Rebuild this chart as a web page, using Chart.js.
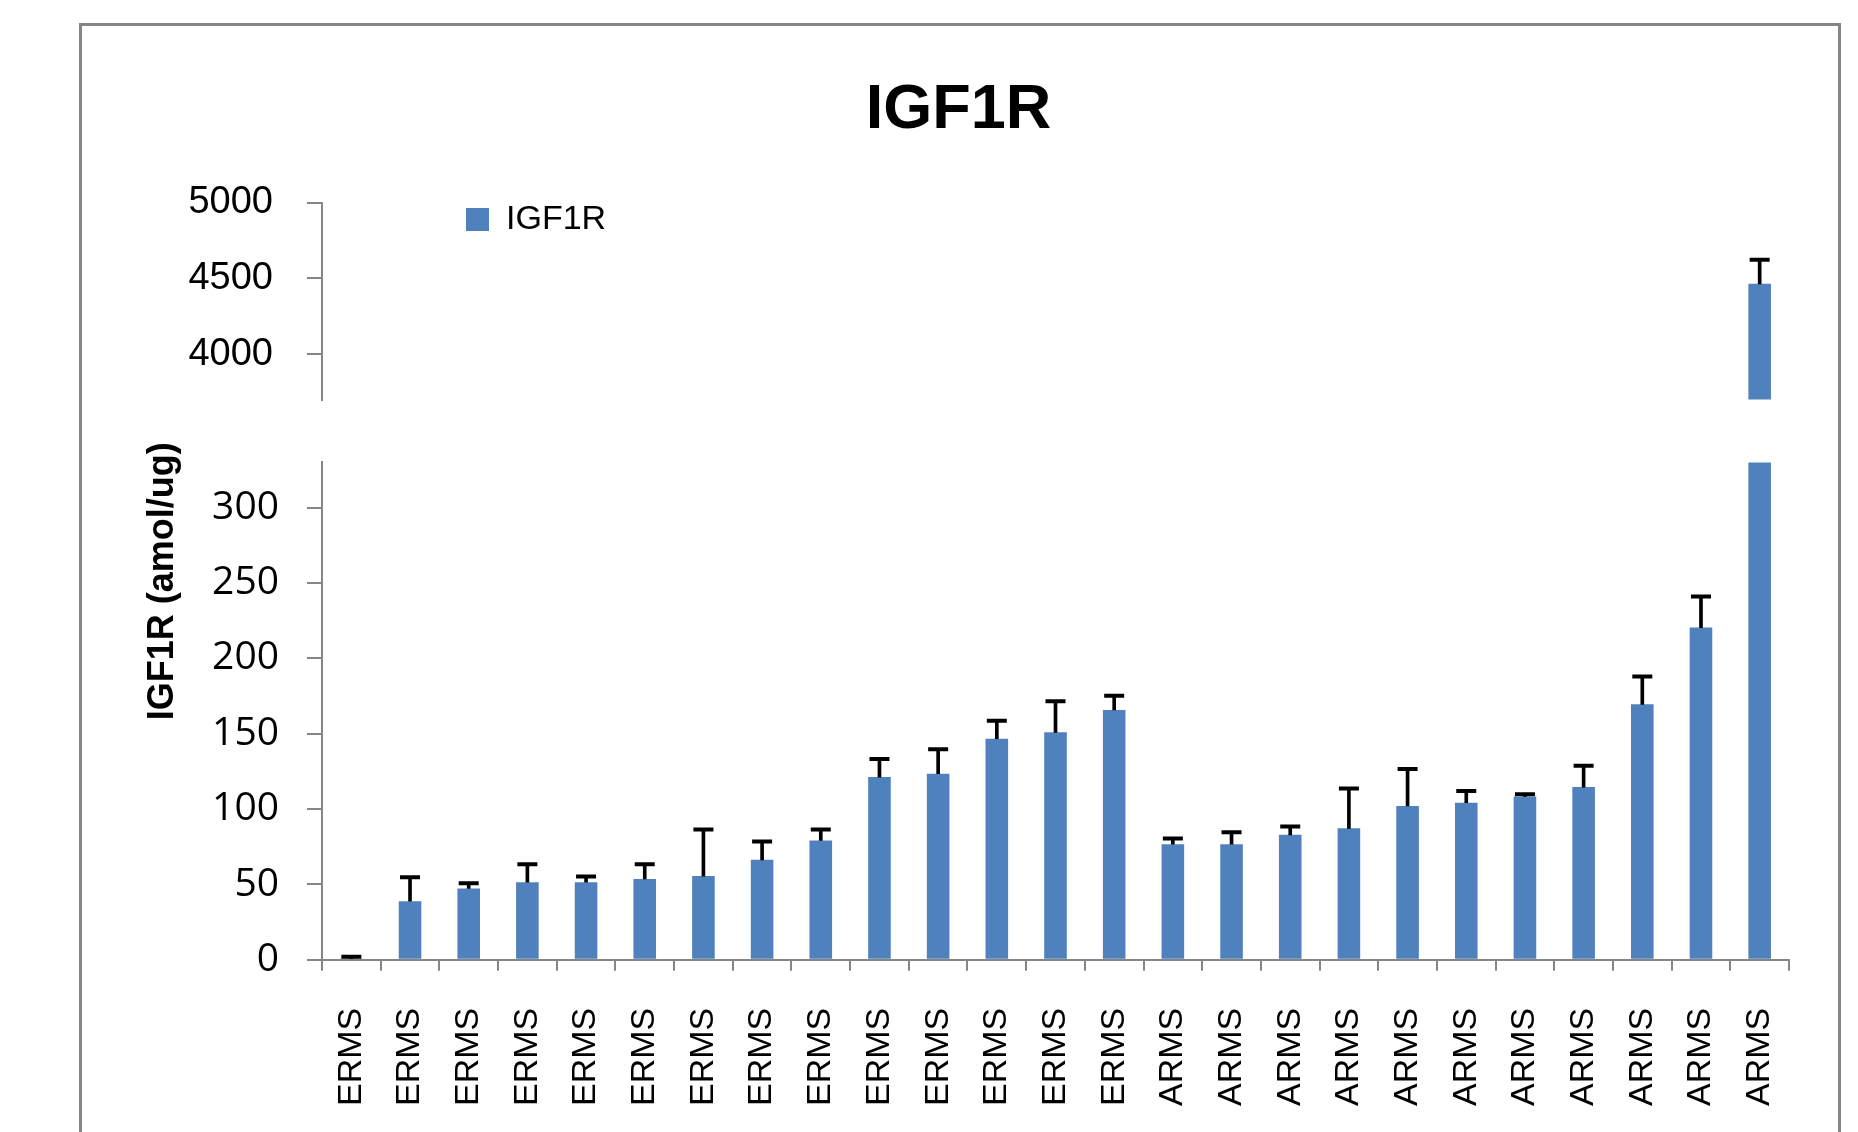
<!DOCTYPE html>
<html>
<head>
<meta charset="utf-8">
<script src="https://cdn.jsdelivr.net/npm/chart.js@4.4.1/dist/chart.umd.min.js"></script>
<style>
  html, body { margin: 0; padding: 0; background: #fff; }
  body { width: 1858px; height: 1132px; overflow: hidden; position: relative; }
  #frame { position: absolute; left: 79px; top: 23px; width: 1756px; height: 1200px;
           border: 3px solid #868686; border-bottom: none; }
  #wrap { position: absolute; left: 82px; top: 27px; width: 1753px; height: 1149px; }
</style>
</head>
<body>
<div id="frame"></div>
<div id="wrap"><canvas id="chart"></canvas></div>
<script>
// data
const categories = [
  'ERMS', 'ERMS', 'ERMS', 'ERMS', 'ERMS', 'ERMS', 'ERMS', 'ERMS', 'ERMS', 'ERMS', 'ERMS', 'ERMS', 'ERMS', 'ERMS',
  'ARMS', 'ARMS', 'ARMS', 'ARMS', 'ARMS', 'ARMS', 'ARMS', 'ARMS', 'ARMS', 'ARMS', 'ARMS'
];
const means = [0.8, 38.9, 47.3, 51.5, 51.5, 53.6, 55.5, 66.3, 79.2, 121.2, 123.4, 146.7, 150.9, 165.7,
               76.7, 76.7, 82.9, 87.2, 102, 104.2, 108.4, 114.6, 169.5, 220.4, 4464];
const errors = [1.2, 15.8, 3.5, 11.8, 3.7, 9.7, 31, 12.2, 7.3, 12, 16.2, 11.9, 20.6, 9.5,
                3.7, 7.9, 5.6, 26.5, 24.6, 7.8, 1.4, 14.2, 18.4, 20.6, 159];
const lowRange = [0, 330];
const topRange = [3700, 5000];
const lowTicks = [0, 50, 100, 150, 200, 250, 300];
const topTicks = [4000, 4500, 5000];

const barBlue = '#4F81BD';
const axisGray = '#868686';
const sans = "'Liberation Sans', Arial, sans-serif";

// bars above the lower panel's max go on the upper (broken) axis too
const isTall = (v) => v > lowRange[1];
const lowStems = means.map((v, i) => isTall(v) ? null : [v, v + errors[i]]);
const topStems = means.map((v, i) => isTall(v) ? [v, v + errors[i]] : null);
const lowCaps = means.map((v, i) => isTall(v) ? null : v + errors[i]);
const topCaps = means.map((v, i) => isTall(v) ? v + errors[i] : null);
const topBars = means.map(v => isTall(v) ? v : null);

const legendSpot = {
  id: 'legendSpot',
  afterLayout(chart) {
    const lg = chart.legend;
    if (!lg) return;
    lg.left = chart.chartArea.left + 134;
    lg.top = chart.chartArea.top - 10;
  }
};

const stemOpts = { type: 'bar', backgroundColor: '#000', barThickness: 3, grouped: false, borderWidth: 0 };
const capOpts = { type: 'line', showLine: false, pointStyle: 'line', pointRadius: 10, pointHoverRadius: 10,
                  borderColor: '#000', pointBorderWidth: 4, borderWidth: 4, backgroundColor: '#000' };
const plainNum = (v) => String(v);

new Chart(document.getElementById('chart'), {
  type: 'bar',
  data: {
    labels: categories,
    datasets: [
      { label: 'IGF1R', data: means, yAxisID: 'y', backgroundColor: barBlue, borderWidth: 0,
        grouped: false, clip: 0, order: 4 },
      { label: 'IGF1R top', data: topBars, yAxisID: 'yTop', backgroundColor: barBlue, borderWidth: 0,
        grouped: false, clip: 0, order: 3 },
      Object.assign({ label: 'err low', data: lowStems, yAxisID: 'y', order: 2 }, stemOpts),
      Object.assign({ label: 'err top', data: topStems, yAxisID: 'yTop', order: 2 }, stemOpts),
      Object.assign({ label: 'cap low', data: lowCaps, yAxisID: 'y', order: 1 }, capOpts),
      Object.assign({ label: 'cap top', data: topCaps, yAxisID: 'yTop', order: 1 }, capOpts)
    ]
  },
  options: {
    responsive: true,
    maintainAspectRatio: false,
    animation: false,
    devicePixelRatio: 1,
    categoryPercentage: 1,
    barPercentage: 0.385,
    layout: { padding: { left: 46, right: 46, top: 0, bottom: 33 } },
    plugins: {
      title: {
        display: true, text: 'IGF1R', color: '#000',
        font: { family: sans, size: 63, weight: 'bold', lineHeight: 1.2 },
        padding: { top: 46, bottom: 54 }
      },
      legend: {
        position: 'chartArea', align: 'start',
        labels: {
          filter: (item) => item.datasetIndex === 0,
          boxWidth: 23, boxHeight: 23, color: '#000',
          font: { family: sans, size: 34 }
        }
      },
      tooltip: { enabled: false }
    },
    scales: {
      x: {
        type: 'category', offset: true,
        afterFit: (axis) => { axis.paddingLeft = 0; axis.paddingRight = 0; },
        grid: { offset: true, drawOnChartArea: false, tickLength: 11, color: axisGray, lineWidth: 2 },
        border: { color: axisGray, width: 2 },
        ticks: { autoSkip: false, maxRotation: 90, minRotation: 90, padding: 37, color: '#000',
                 font: { family: sans, size: 34 } }
      },
      yTitle: {
        type: 'linear', position: 'left', weight: 10, min: 0, max: 1,
        afterFit: (axis) => { axis.width = 60; },
        grid: { display: false, drawTicks: false }, border: { display: false }, ticks: { display: false },
        title: { display: true, text: 'IGF1R (amol/ug)', color: '#000',
                 font: { family: sans, size: 36, weight: 'bold', lineHeight: 1.2 },
                 padding: { top: 13, bottom: 0 } }
      },
      yTop: {
        type: 'linear', position: 'left', stack: 'v', stackWeight: 196.7, weight: 3,
        min: topRange[0], max: topRange[1],
        afterBuildTicks: (axis) => { axis.ticks = topTicks.map(v => ({ value: v })); },
        afterFit: (axis) => { axis.width = 134; },
        grid: { drawOnChartArea: false, tickLength: 15, color: axisGray, lineWidth: 2 },
        border: { color: axisGray, width: 2 },
        ticks: { padding: 34, color: '#000', callback: plainNum, font: { family: sans, size: 38 } }
      },
      yGap: {
        type: 'linear', position: 'left', stack: 'v', stackWeight: 62.7, weight: 2, min: 0, max: 1,
        afterFit: (axis) => { axis.width = 134; },
        grid: { display: false, drawTicks: false }, border: { display: false }, ticks: { display: false }
      },
      y: {
        type: 'linear', position: 'left', stack: 'v', stackWeight: 496.6, weight: 1,
        min: lowRange[0], max: lowRange[1],
        afterBuildTicks: (axis) => { axis.ticks = lowTicks.map(v => ({ value: v })); },
        afterFit: (axis) => { axis.width = 134; },
        grid: { drawOnChartArea: false, tickLength: 15, color: axisGray, lineWidth: 2 },
        border: { color: axisGray, width: 2 },
        ticks: { padding: 28, color: '#000', callback: plainNum,
                 font: { family: "'Open Sans', sans-serif", size: 39 } }
      }
    }
  },
  plugins: [legendSpot]
});
</script>
</body>
</html>
